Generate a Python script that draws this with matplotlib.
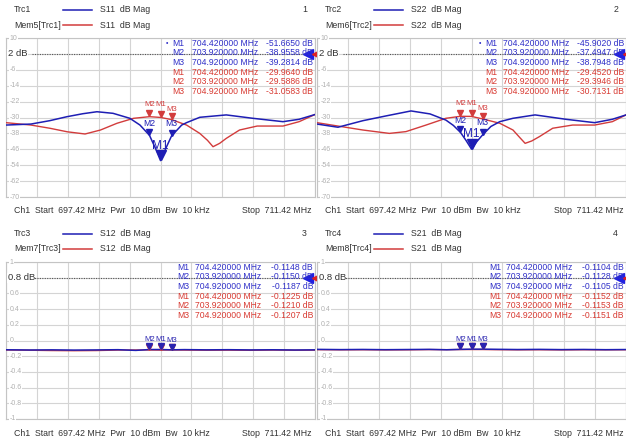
import numpy as np
import matplotlib.pyplot as plt
from matplotlib import transforms

plt.rcParams['font.family'] = ['Liberation Sans', 'DejaVu Sans']

W, H = 626, 446
f_start, f_stop = 697.42, 711.42

# ---- data (MHz, dB) ----
s11_f = [697.42, 698.55, 699.40, 700.18, 700.9, 701.54, 702.27, 703.03, 703.49, 703.92,
         704.17, 704.42, 704.67, 704.92, 705.38, 705.60, 706.20, 707.40, 708.60, 709.97,
         710.70, 711.42]
s11_v = [-33.8, -33.3, -31.6, -29.6, -28.1, -27.1, -27.9, -30.4, -33.8, -38.96,
         -45.0, -51.67, -45.3, -39.28, -33.8, -32.6, -29.9, -28.7, -30.4, -32.1,
         -30.9, -28.5]
mem5_f = [697.42, 698.55, 699.40, 700.20, 701.00, 701.70, 702.45, 703.20, 703.92, 704.42,
          704.92, 705.60, 706.20, 706.55, 706.80, 707.10, 707.40, 708.00, 708.80, 709.97,
          710.70, 711.42]
mem5_v = [-32.6, -33.8, -35.4, -37.2, -38.3, -36.3, -32.9, -30.4, -29.59, -29.96,
          -31.06, -33.8, -38.0, -41.5, -44.7, -43.0, -40.5, -36.3, -34.3, -34.3,
          -32.1, -28.5]

s22_f = [697.42, 698.37, 699.50, 700.55, 701.68, 702.54, 703.26, 703.60, 703.92, 704.17,
         704.42, 704.67, 704.92, 705.30, 705.70, 706.30, 707.30, 708.70, 710.00, 710.80,
         711.42]
s22_v = [-33.3, -34.9, -31.6, -29.2, -26.7, -28.2, -31.3, -34.0, -37.49, -41.5,
         -45.90, -42.0, -38.79, -34.5, -32.1, -30.4, -28.7, -30.9, -32.6, -30.9,
         -28.7]
mem6_f = [697.42, 698.37, 699.50, 700.70, 701.45, 702.36, 703.26, 703.92, 704.42, 704.92,
          705.70, 706.30, 706.60, 706.85, 707.15, 707.50, 708.10, 709.00, 710.00, 710.80,
          711.42]
mem6_v = [-32.6, -34.3, -36.3, -38.0, -37.1, -33.8, -30.4, -29.39, -29.45, -30.71,
          -32.9, -36.3, -40.0, -43.0, -41.8, -39.6, -35.4, -33.8, -33.8, -32.1,
          -28.7]

flat_f = [697.42, 698.5, 699.5, 700.5, 701.5, 702.5, 703.3, 703.92, 704.42, 704.92,
          705.5, 706.5, 707.5, 708.5, 709.5, 710.5, 711.42]
s12_v = [-0.118, -0.121, -0.119, -0.122, -0.120, -0.117, -0.126, -0.1150, -0.1148, -0.1187,
         -0.116, -0.119, -0.117, -0.120, -0.118, -0.121, -0.119]
mem7_v = [-0.121, -0.124, -0.128, -0.130, -0.128, -0.122, -0.121, -0.1210, -0.1225, -0.1207,
          -0.122, -0.124, -0.123, -0.125, -0.122, -0.124, -0.123]
s21_v = [-0.113, -0.116, -0.114, -0.117, -0.115, -0.113, -0.118, -0.1128, -0.1104, -0.1105,
         -0.112, -0.115, -0.113, -0.116, -0.114, -0.117, -0.115]
mem8_v = [-0.117, -0.119, -0.118, -0.120, -0.119, -0.116, -0.117, -0.1153, -0.1152, -0.1151,
          -0.117, -0.119, -0.118, -0.120, -0.118, -0.119, -0.118]

mk_names = ['M1', 'M2', 'M3']
mk_f = [704.42, 703.92, 704.92]
mk_s11 = [-51.6650, -38.9558, -39.2814]
mk_mem5 = [-29.9640, -29.5886, -31.0583]
mk_s22 = [-45.9020, -37.4947, -38.7948]
mk_mem6 = [-29.4520, -29.3946, -30.7131]
mk_s12 = [-0.1148, -0.1150, -0.1187]
mk_mem7 = [-0.1225, -0.1210, -0.1207]
mk_s21 = [-0.1104, -0.1128, -0.1105]
mk_mem8 = [-0.1152, -0.1153, -0.1151]

BLUE = '#1e1eb4'
RED = '#d23c3c'
TBLUE = '#3030c8'
TRED = '#d83a32'
TXT = '#333333'
GRID = '#d4d4d4'
LBL = '#b0b0b0'

fig = plt.figure(figsize=(W / 100, H / 100), dpi=100)


def fx(x):
    return x / W


def fy(y):
    return 1 - y / H


def marker(ax, f, v, col, ms, label=None, lab_fs=6, lab_off=5):
    tr = transforms.offset_copy(ax.transData, fig=fig, x=0, y=ms / 2, units='points')
    ax.plot([f], [v], marker='v', ms=ms, color=col, mec=col, transform=tr, zorder=6)
    if label:
        ax.annotate(label, xy=(f, v), xytext=(0, lab_off), textcoords='offset points',
                    ha='center', va='bottom', fontsize=lab_fs, color=col, zorder=7)


def panel(x0, y0, num, trc, mem, par, ylim, yticks, ref, ref_lbl, tlbls,
          tr_f, tr_v, mem_f, mem_v, mk_tr, mk_mem, active, mcol, fcol):
    x1 = x0 + 309
    y1 = y0 + 159 if active else y0 + 157
    ax = fig.add_axes([fx(x0), fy(y1), fx(x1 - x0), (y1 - y0) / H])
    ax.set_xlim(f_start, f_stop)
    ax.set_ylim(*ylim)
    ax.set_xticks(np.linspace(f_start, f_stop, 11))
    ax.set_yticks(yticks)
    ax.grid(True, color=GRID, lw=0.8)
    ax.tick_params(length=0, labelbottom=False, labelleft=False)
    for s in ax.spines.values():
        s.set_color('#c4c4c4')
        s.set_linewidth(0.8)
    bl = transforms.blended_transform_factory(ax.transAxes, ax.transData)
    for t, s in zip(yticks, tlbls):
        if t == ref:
            continue
        ax.text(0.012, t, s, transform=bl, fontsize=5, color=LBL, va='center',
                ha='left', bbox=dict(fc='white', ec='none', pad=0.3), zorder=3)
    ax.text(0.006, ref, ref_lbl, transform=bl, fontsize=6.8, color=TXT, va='center',
            ha='left', bbox=dict(fc='white', ec='none', pad=0.3), zorder=4)
    ax.plot([0.085, 0.97], [ref, ref], transform=bl, color='#555555', lw=0.8, ls=(0, (1, 1.2)),
            zorder=3)
    ax.plot([0.978], [ref], transform=bl, marker='<', ms=6.5, color='#2020e0', clip_on=False, zorder=8)
    ax.plot([1.006], [ref], transform=bl, marker='<', ms=6.5, color='#e02020', clip_on=False, zorder=8)

    ax.plot(mem_f, mem_v, color=RED, lw=1.0, zorder=4)
    ax.plot(tr_f, tr_v, color=BLUE, lw=1.1, zorder=5)

    # markers on the traces (memory labels hidden under the trace ones when flat)
    for n, f, v in zip(mk_names, mk_f, mk_mem):
        if active:
            marker(ax, f, v, RED, 4.6, n, 5.6, 6.5 if n != 'M3' else 4.8)
        else:
            marker(ax, f, v, RED, 4.6)
    for n, f, v in zip(mk_names, mk_f, mk_tr):
        if active and n == 'M1':
            marker(ax, f, v, BLUE, 7.8, n, 8.5, 6.5)
        elif active:
            marker(ax, f, v, BLUE, 4.6, n, 6.2, 5.5)
        else:
            marker(ax, f, v, '#2a24b0', 4.6, n, 5.6, 4.5)

    # marker table
    rows = [(TBLUE, mk_tr), (TRED, mk_mem)]
    ry = y0 + 5
    for col, vals in rows:
        for n, f, v in zip(mk_names, mk_f, vals):
            if active and col == TBLUE and n == 'M1':
                fig.text(fx(x0 + mcol - 6), fy(ry), '\u2022', fontsize=5, color=col, va='center')
            fig.text(fx(x0 + mcol), fy(ry), n, fontsize=6.2, color=col, va='center')
            fig.text(fx(x0 + fcol), fy(ry), '%.6f MHz' % f, fontsize=6.2, color=col, va='center')
            fig.text(fx(x0 + 307), fy(ry), '%.4f dB' % v, fontsize=6.2, color=col, va='center',
                     ha='right')
            ry += 9.7

    # header and footer
    hy = y0 - 28
    fig.text(fx(x0 + 8), fy(hy), trc, fontsize=6.3, color=TXT, va='center')
    fig.text(fx(x0 + 8), fy(hy + 15), mem, fontsize=6.3, color=TXT, va='center')
    fig.add_artist(plt.Line2D([fx(x0 + 57), fx(x0 + 86)], [fy(hy), fy(hy)], color=BLUE, lw=1.1))
    fig.add_artist(plt.Line2D([fx(x0 + 57), fx(x0 + 86)], [fy(hy + 15), fy(hy + 15)], color=RED, lw=1.1))
    fig.text(fx(x0 + 94), fy(hy), par + '  dB Mag', fontsize=6.3, color=TXT, va='center')
    fig.text(fx(x0 + 94), fy(hy + 15), par + '  dB Mag', fontsize=6.3, color=TXT, va='center')
    fig.text(fx(x0 + 301), fy(hy), num, fontsize=6.3, color=TXT, va='center', ha='right')
    by = y1 + 14
    fig.text(fx(x0 + 8), fy(by), 'Ch1  Start  697.42 MHz  Pwr  10 dBm  Bw  10 kHz',
             fontsize=6.3, color=TXT, va='center')
    fig.text(fx(x0 + 306), fy(by), 'Stop  711.42 MHz', fontsize=6.3, color=TXT, va='center',
             ha='right')
    return ax


db_ticks = [10, 2, -6, -14, -22, -30, -38, -46, -54, -62, -70]
db_lbls = ['10', '2 dB', '-6', '-14', '-22', '-30', '-38', '-46', '-54', '-62', '-70']
lin_ticks = [1, 0.8, 0.6, 0.4, 0.2, 0, -0.2, -0.4, -0.6, -0.8, -1]
lin_lbls = ['1', '0.8 dB', '0.6', '0.4', '0.2', '0', '-0.2', '-0.4', '-0.6', '-0.8', '-1']

panel(6, 38, '1', 'Trc1', 'Mem5[Trc1]', 'S11', (-70, 10), db_ticks, 2, '2 dB', db_lbls,
      s11_f, s11_v, mem5_f, mem5_v, mk_s11, mk_mem5, True, 166, 186)
panel(317, 38, '2', 'Trc2', 'Mem6[Trc2]', 'S22', (-70, 10), db_ticks, 2, '2 dB', db_lbls,
      s22_f, s22_v, mem6_f, mem6_v, mk_s22, mk_mem6, True, 168, 186)
panel(6, 262, '3', 'Trc3', 'Mem7[Trc3]', 'S12', (-1, 1), lin_ticks, 0.8, '0.8 dB', lin_lbls,
      flat_f, s12_v, flat_f, mem7_v, mk_s12, mk_mem7, False, 171, 189)
panel(317, 262, '4', 'Trc4', 'Mem8[Trc4]', 'S21', (-1, 1), lin_ticks, 0.8, '0.8 dB', lin_lbls,
      flat_f, s21_v, flat_f, mem8_v, mk_s21, mk_mem8, False, 172, 189)

fig.savefig('out.png', dpi=100)
